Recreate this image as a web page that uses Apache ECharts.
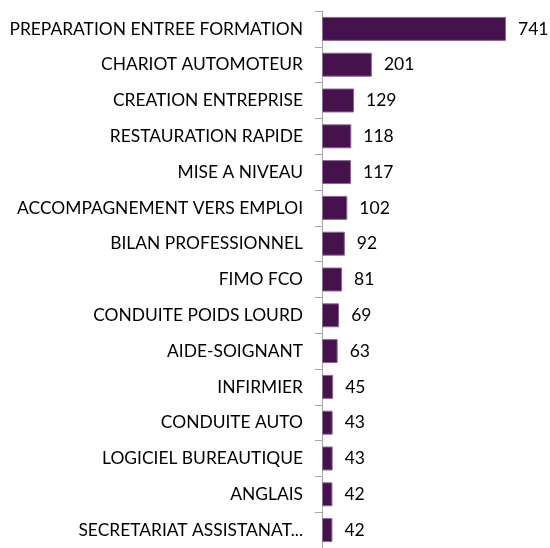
<!DOCTYPE html>
<html>
<head>
<meta charset="utf-8">
<script src="https://cdn.jsdelivr.net/npm/echarts@6/dist/echarts.min.js"></script>
<style>
html, body { margin: 0; padding: 0; background: #fff; }
#chart { width: 550px; height: 548px; }
</style>
</head>
<body>
<div id="chart"></div>
<script>
// formations, top to bottom
var categories = [
    "PREPARATION ENTREE FORMATION",
    "CHARIOT AUTOMOTEUR",
    "CREATION ENTREPRISE",
    "RESTAURATION RAPIDE",
    "MISE A NIVEAU",
    "ACCOMPAGNEMENT VERS EMPLOI",
    "BILAN PROFESSIONNEL",
    "FIMO FCO",
    "CONDUITE POIDS LOURD",
    "AIDE-SOIGNANT",
    "INFIRMIER",
    "CONDUITE AUTO",
    "LOGICIEL BUREAUTIQUE",
    "ANGLAIS",
    "SECRETARIAT ASSISTANAT..."
];
var values = [741, 201, 129, 118, 117, 102, 92, 81, 69, 63, 45, 43, 43, 42, 42];

var myChart = echarts.init(document.getElementById('chart'));

var option = {
    animation: false,
    textStyle: { fontFamily: 'Lato' },
    // the last row runs a little past the bottom edge, like the original
    grid: { left: 322, right: 44, top: 11, bottom: -6 },
    xAxis: {
        type: 'value',
        min: 0,
        max: 741,
        show: false
    },
    yAxis: {
        type: 'category',
        data: categories,
        inverse: true,
        axisLine: { show: true, lineStyle: { color: '#a6a6a6', width: 1 } },
        axisTick: { show: true, length: 7, lineStyle: { color: '#a6a6a6' } },
        axisLabel: { color: '#000', fontSize: 17.4, margin: 19 }
    },
    series: [{
        type: 'bar',
        data: values,
        barCategoryGap: '33%',
        itemStyle: { color: '#46124e', borderColor: '#8a6a93', borderWidth: 1 },
        label: {
            show: true,
            position: 'right',
            distance: 12,
            color: '#000',
            fontSize: 17.5
        }
    }]
};
myChart.setOption(option);
</script>
</body>
</html>
